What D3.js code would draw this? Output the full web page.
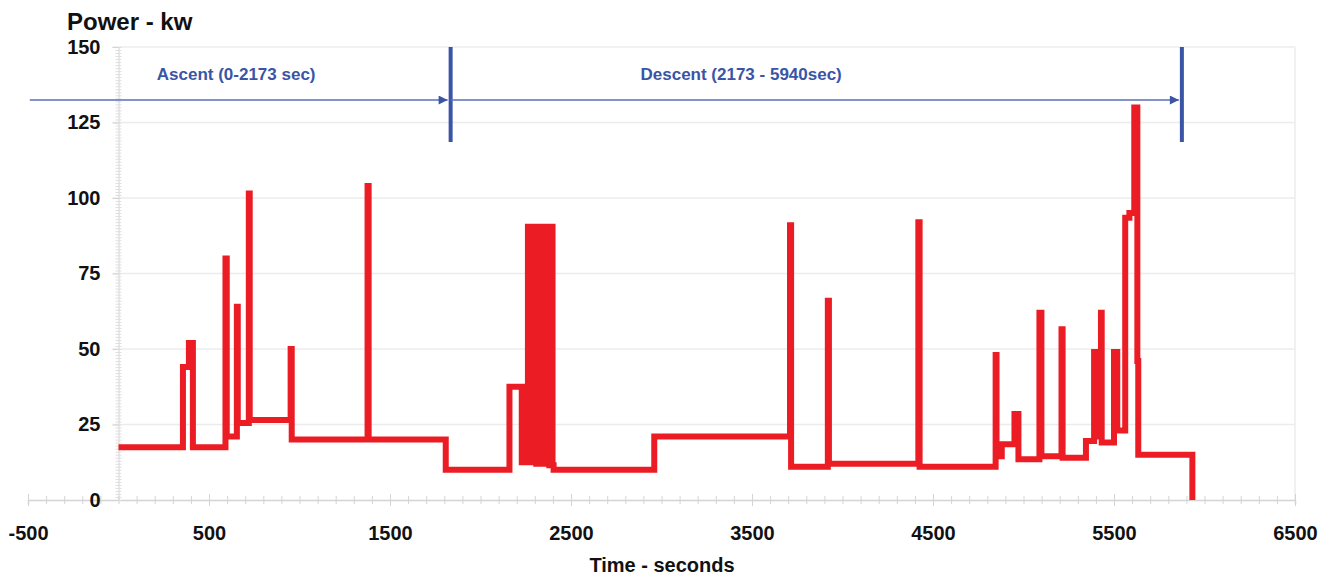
<!DOCTYPE html>
<html>
<head>
<meta charset="utf-8">
<script src="https://cdn.jsdelivr.net/npm/d3@7"></script>
<style>
  body { margin: 0; background: #fff; }
  svg { display: block; font-family: "Liberation Sans", Arial, sans-serif; }
</style>
</head>
<body>
<svg id="chart" width="1330" height="575"></svg>
<script>
// step profile: power (kW) switches to stepPowers[i] at stepTimes[i] (sec)
const stepTimes = [
    0, 356, 389, 411, 591, 598, 654, 659, 720, 725,
    951, 957, 1376, 1382, 1808, 2160,
    2228, 2236, 2244, 2252, 2262, 2272, 2280, 2290, 2298, 2308,
    2316, 2326, 2334, 2344, 2352, 2362, 2370, 2380, 2388, 2398, 2404,
    2960, 3710, 3716, 3919, 3925, 4419, 4426,
    4846, 4851, 4880, 4950, 4972, 5088, 5099, 5210, 5216,
    5345, 5390, 5398, 5404, 5428, 5432, 5500, 5518,
    5562, 5585, 5612, 5629, 5634, 5933
];
const stepPowers = [
    17.5, 44, 52, 17.5, 80, 21, 64, 25.5, 101.5, 26.5,
    50, 20, 104, 20, 10, 37.5,
    12.5, 37.5, 12.5, 37.5, 90.5, 12.5, 90.5, 12.5, 90.5, 12,
    90.5, 12, 90.5, 12, 90.5, 12, 90.5, 11.5, 90.5, 11.5, 10,
    21, 91, 11, 66, 12, 92, 11,
    48, 14.5, 18.5, 28.5, 13.5, 62, 14.5, 56.5, 14,
    19.5, 49, 21, 49, 62, 19, 49, 23,
    93.5, 95, 130, 46, 15, 0
];

const xTickValues = [-500, 500, 1500, 2500, 3500, 4500, 5500, 6500];
const yTickValues = [0, 25, 50, 75, 100, 125, 150];

// phase annotations
const phaseLabels = ["Ascent (0-2173 sec)", "Descent (2173 - 5940sec)"];
const phaseLabelAt = [650, 3440];
const phaseEnds = [1835, 5875];
const arrowStart = -490;

const svg = d3.select("#chart");

const x = d3.scaleLinear().domain([-500, 6500]).range([28, 1295]);
const y = d3.scaleLinear().domain([0, 150]).range([500, 47]);

const gridColor = "#ececec";
const axisColor = "#d4d4d4";
const blue = "#3a54a6";

// horizontal grid
svg.append("g")
    .selectAll("line")
    .data(yTickValues.filter(d => d > 0))
    .join("line")
    .attr("x1", x(0) - 6)
    .attr("x2", x(6500))
    .attr("y1", d => y(d))
    .attr("y2", d => y(d))
    .attr("stroke", gridColor)
    .attr("stroke-width", 1.5);

// right border
svg.append("line")
    .attr("x1", x(6500)).attr("x2", x(6500))
    .attr("y1", y(150)).attr("y2", y(0))
    .attr("stroke", gridColor)
    .attr("stroke-width", 1.5);

// x axis with minor ticks
const xMinor = svg.append("g")
    .attr("transform", `translate(0,${y(0)})`)
    .call(d3.axisBottom(x)
        .tickValues(d3.range(-500, 6501, 100))
        .tickSize(4)
        .tickFormat(""));
xMinor.select(".domain").attr("stroke", axisColor).attr("stroke-width", 1.5);
xMinor.selectAll(".tick line").attr("stroke", axisColor).attr("y1", -4);

const xAxis = svg.append("g")
    .attr("transform", `translate(0,${y(0)})`)
    .call(d3.axisBottom(x)
        .tickValues(xTickValues)
        .tickSize(6)
        .tickPadding(20)
        .tickFormat(d => String(d)));
xAxis.select(".domain").remove();
xAxis.selectAll(".tick line").attr("stroke", axisColor).attr("y1", -6);
xAxis.selectAll("text")
    .style("font-family", "'Liberation Sans', Arial, sans-serif")
    .style("font-size", "20px")
    .style("font-weight", "bold")
    .attr("fill", "#111");

// y axis with minor ticks
const yMinor = svg.append("g")
    .attr("transform", `translate(${x(0)},0)`)
    .call(d3.axisLeft(y)
        .tickValues(d3.range(0, 150.1, 1))
        .tickSize(3)
        .tickFormat(""));
yMinor.select(".domain").attr("stroke", axisColor).attr("stroke-width", 1);
yMinor.selectAll(".tick line").attr("stroke", "#dedede").attr("x1", 3);

const yAxis = svg.append("g")
    .attr("transform", `translate(${x(0)},0)`)
    .call(d3.axisLeft(y)
        .tickValues(yTickValues)
        .tickSize(6)
        .tickPadding(12)
        .tickFormat(d => String(d)));
yAxis.select(".domain").remove();
yAxis.selectAll(".tick line").attr("stroke", axisColor);
yAxis.selectAll("text")
    .style("font-family", "'Liberation Sans', Arial, sans-serif")
    .style("font-size", "20px")
    .style("font-weight", "bold")
    .attr("fill", "#111");

// power profile
const profile = stepTimes.map((t, i) => ({t: t, p: stepPowers[i]}));
const line = d3.line()
    .x(d => x(d.t))
    .y(d => y(d.p))
    .curve(d3.curveStepAfter);

svg.append("path")
    .datum(profile)
    .attr("fill", "none")
    .attr("stroke", "#ec1c24")
    .attr("stroke-width", 6)
    .attr("stroke-linejoin", "miter")
    .attr("d", line);

// phase arrows
svg.append("defs").append("marker")
    .attr("id", "arrowhead")
    .attr("viewBox", "0 0 10 10")
    .attr("refX", 10)
    .attr("refY", 5)
    .attr("markerWidth", 10)
    .attr("markerHeight", 9)
    .attr("markerUnits", "userSpaceOnUse")
    .attr("orient", "auto")
    .append("path")
    .attr("d", "M0,0 L10,5 L0,10 Z")
    .attr("fill", blue);

const arrowY = 100;
const starts = [arrowStart, phaseEnds[0]];
phaseEnds.forEach((end, i) => {
    svg.append("line")
        .attr("x1", x(starts[i]))
        .attr("x2", x(end) - 3)
        .attr("y1", arrowY)
        .attr("y2", arrowY)
        .attr("stroke", "#5a6fb3")
        .attr("stroke-width", 1.5)
        .attr("marker-end", "url(#arrowhead)");

    svg.append("line")
        .attr("x1", x(end))
        .attr("x2", x(end))
        .attr("y1", y(150))
        .attr("y2", 142)
        .attr("stroke", blue)
        .attr("stroke-width", 4);

    svg.append("text")
        .attr("x", x(phaseLabelAt[i]))
        .attr("y", 80)
        .attr("text-anchor", "middle")
        .attr("fill", blue)
        .style("font-size", "17px")
        .style("font-weight", "bold")
        .text(phaseLabels[i]);
});

// titles
svg.append("text")
    .attr("x", 67)
    .attr("y", 30)
    .style("font-size", "24px")
    .style("font-weight", "bold")
    .attr("fill", "#111")
    .text("Power - kw");

svg.append("text")
    .attr("x", 662)
    .attr("y", 572)
    .attr("text-anchor", "middle")
    .style("font-size", "20px")
    .style("font-weight", "bold")
    .attr("fill", "#111")
    .text("Time - seconds");
</script>
</body>
</html>
